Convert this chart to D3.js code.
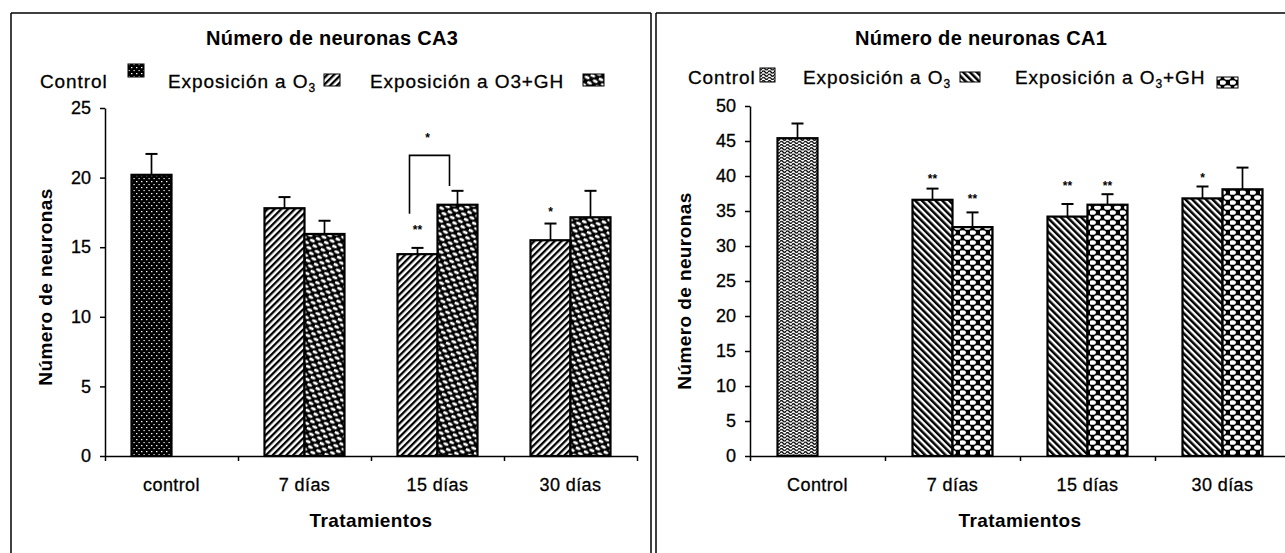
<!DOCTYPE html>
<html>
<head>
<meta charset="utf-8">
<script src="https://cdn.jsdelivr.net/npm/d3@7/dist/d3.min.js"></script>
<style>
  html, body { margin: 0; padding: 0; background: #fff; }
  svg { display: block; }
  text { font-family: "Liberation Sans", Arial, sans-serif; fill: #000; }
  text.reg { stroke: #000; stroke-width: 0.3; }
</style>
</head>
<body>
<svg id="chart" width="1285" height="553"></svg>
<script>
// ---- CA3 panel data ----
const ca3Categories = ["control", "7 días", "15 días", "30 días"];
const ca3Control = [20.2, null, null, null];
const ca3ControlErr = [1.5, null, null, null];
const ca3O3 = [null, 17.8, 14.5, 15.5];
const ca3O3Err = [null, 0.8, 0.45, 1.2];
const ca3O3GH = [null, 15.95, 18.05, 17.15];
const ca3O3GHErr = [null, 0.95, 1.0, 1.9];
const ca3Ticks = [0, 5, 10, 15, 20, 25];

// ---- CA1 panel data ----
const ca1Categories = ["Control", "7 días", "15 días", "30 días"];
const ca1Control = [45.4, null, null, null];
const ca1ControlErr = [2.1, null, null, null];
const ca1O3 = [null, 36.6, 34.2, 36.8];
const ca1O3Err = [null, 1.6, 1.8, 1.7];
const ca1O3GH = [null, 32.7, 35.9, 38.1];
const ca1O3GHErr = [null, 2.1, 1.5, 3.1];
const ca1Ticks = [0, 5, 10, 15, 20, 25, 30, 35, 40, 45, 50];

// significance marks: category index, series slot (0 = left bar, 1 = right bar), label, height in data units
const ca3Marks = [
  { cat: 2, slot: 0, label: "**", at: 16.25 },
  { cat: 3, slot: 0, label: "*", at: 17.5 }
];
const ca3Bracket = { cat: 2, label: "*", top: 21.6, leftBottom: 17.4, rightBottom: 19.4, labelAt: 22.85 };
const ca1Marks = [
  { cat: 1, slot: 0, label: "**", at: 39.6 },
  { cat: 1, slot: 1, label: "**", at: 36.7 },
  { cat: 2, slot: 0, label: "**", at: 38.6 },
  { cat: 2, slot: 1, label: "**", at: 38.6 },
  { cat: 3, slot: 0, label: "*", at: 39.7 }
];

const svg = d3.select("#chart");
const defs = svg.append("defs");

// ---- fill patterns ----
function pattern(id, w, h, transform) {
  const p = defs.append("pattern").attr("id", id)
    .attr("patternUnits", "userSpaceOnUse").attr("width", w).attr("height", h);
  if (transform) p.attr("patternTransform", transform);
  return p;
}
// dark stipple (black with fine white dots)
{
  const p = pattern("pDarkDots", 5, 6);
  p.append("rect").attr("width", 5).attr("height", 6).attr("fill", "#000");
  p.append("rect").attr("x", 1).attr("y", 1).attr("width", 1.4).attr("height", 1.2).attr("fill", "#fff");
  p.append("rect").attr("x", 3.5).attr("y", 4).attr("width", 1.2).attr("height", 1.1).attr("fill", "#fff");
}
// forward hatch ////
{
  const p = pattern("pHatchFwd", 4.8, 4.8, "rotate(45)");
  p.append("rect").attr("width", 4.8).attr("height", 4.8).attr("fill", "#fff");
  p.append("rect").attr("width", 2.3).attr("height", 4.8).attr("fill", "#000");
}
// back hatch \\\\
{
  const p = pattern("pHatchBack", 4.8, 4.8, "rotate(-45)");
  p.append("rect").attr("width", 4.8).attr("height", 4.8).attr("fill", "#fff");
  p.append("rect").attr("width", 2.5).attr("height", 4.8).attr("fill", "#000");
}
// scale / weave texture
function weave(id, w, h, rx, ry, transform) {
  const p = pattern(id, w, h, transform);
  p.append("rect").attr("width", w).attr("height", h).attr("fill", "#000");
  const pts = [[w / 4, h / 4], [3 * w / 4, 3 * h / 4], [-w / 4, 3 * h / 4], [5 * w / 4, 3 * h / 4],
               [w / 4, 5 * h / 4], [3 * w / 4, -h / 4]];
  pts.forEach(([cx, cy]) => p.append("ellipse").attr("cx", cx).attr("cy", cy)
    .attr("rx", rx).attr("ry", ry).attr("fill", "#fff"));
}
weave("pWeaveA", 9, 8, 2.7, 1.6, "rotate(25)");
weave("pWeaveB", 10, 10, 3.4, 2.3, null);
// speckled wavy texture (mid grey look)
{
  const p = pattern("pWavy", 6, 3.2);
  p.append("rect").attr("width", 6).attr("height", 3.2).attr("fill", "#fff");
  p.append("path").attr("d", "M0,1.6 C1,0.2 2,0.2 3,1.6 S5,3 6,1.6")
    .attr("fill", "none").attr("stroke", "#000").attr("stroke-width", 1.3);
}

// ---- panel frames ----
const frame = svg.append("g").attr("stroke", "#000").attr("stroke-width", 1.5).attr("fill", "none");
frame.append("line").attr("x1", 11).attr("y1", 13).attr("x2", 651).attr("y2", 13);
frame.append("line").attr("x1", 11).attr("y1", 13).attr("x2", 11).attr("y2", 553);
frame.append("line").attr("x1", 651).attr("y1", 13).attr("x2", 651).attr("y2", 553);
frame.append("line").attr("x1", 656).attr("y1", 13).attr("x2", 656).attr("y2", 553);
frame.append("line").attr("x1", 656).attr("y1", 13).attr("x2", 1285).attr("y2", 13);

// ---- one bar chart panel ----
function drawPanel(cfg) {
  const g = svg.append("g");
  const x = d3.scaleBand().domain(cfg.categories).range([cfg.x0, cfg.x1]);
  const y = d3.scaleLinear().domain([0, cfg.yMax]).range([cfg.yBase, cfg.yTop]);
  const barW = 40;

  // title
  g.append("text").attr("x", cfg.titleX).attr("y", 45).attr("text-anchor", "middle")
    .attr("font-weight", "bold").attr("font-size", 20).attr("letter-spacing", 0.3)
    .text(cfg.title);

  // legend
  cfg.legend.forEach(item => {
    const t = g.append("text").attr("class", "reg").attr("x", item.tx).attr("y", cfg.legendY)
      .attr("font-size", 19).attr("letter-spacing", 0.9);
    item.parts.forEach(pt => {
      const s = t.append("tspan").text(pt.t);
      if (pt.sub) s.attr("font-size", 12).attr("dy", 4);
      if (pt.after) s.attr("dy", -4);
    });
    g.append("rect").attr("x", item.sx).attr("y", item.sy).attr("width", item.sw).attr("height", item.sh)
      .attr("fill", `url(#${item.fill})`).attr("stroke", "#000").attr("stroke-width", 1);
  });

  // bars: slot 0 = left of centre, slot 1 = right of centre
  const series = [
    { vals: cfg.control, errs: cfg.controlErr, slot: 0, fill: cfg.fills[0] },
    { vals: cfg.o3, errs: cfg.o3Err, slot: 0, fill: cfg.fills[1] },
    { vals: cfg.gh, errs: cfg.ghErr, slot: 1, fill: cfg.fills[2] }
  ];
  const barX = (i, slot) => x(cfg.categories[i]) + x.bandwidth() / 2 - barW + slot * barW;

  series.forEach(s => {
    const rows = s.vals.map((v, i) => ({ v, e: s.errs[i], i })).filter(d => d.v != null);
    g.selectAll(null).data(rows).enter().append("rect")
      .attr("x", d => barX(d.i, s.slot)).attr("y", d => y(d.v))
      .attr("width", barW).attr("height", d => y(0) - y(d.v))
      .attr("fill", `url(#${s.fill})`).attr("stroke", "#000").attr("stroke-width", 2.2);
    rows.forEach(d => {
      const cx = barX(d.i, s.slot) + barW / 2;
      g.append("line").attr("x1", cx).attr("x2", cx).attr("y1", y(d.v)).attr("y2", y(d.v + d.e))
        .attr("stroke", "#000").attr("stroke-width", 1.7);
      g.append("line").attr("x1", cx - 6).attr("x2", cx + 6).attr("y1", y(d.v + d.e)).attr("y2", y(d.v + d.e))
        .attr("stroke", "#000").attr("stroke-width", 2);
    });
  });

  // y axis
  const yAxis = g.append("g").attr("transform", `translate(${cfg.x0},0)`)
    .call(d3.axisLeft(y).tickValues(cfg.ticks).tickSize(5).tickSizeOuter(0).tickPadding(cfg.tickPad));
  yAxis.selectAll("text").attr("class", "reg").attr("font-size", 18)
    .attr("font-family", "Liberation Sans, Arial, sans-serif");

  // x axis: ticks at category boundaries, labels under each category
  const xb = d3.scaleLinear().domain([0, cfg.categories.length]).range([cfg.x0, cfg.x1]);
  g.append("g").attr("transform", `translate(0,${cfg.yBase})`)
    .call(d3.axisBottom(xb).ticks(cfg.categories.length).tickFormat("").tickSize(5).tickSizeOuter(0));
  const xAxis = g.append("g").attr("transform", `translate(0,${cfg.yBase})`)
    .call(d3.axisBottom(x).tickSize(0).tickPadding(22));
  xAxis.select(".domain").remove();
  xAxis.selectAll("text").attr("class", "reg").attr("font-size", 18).attr("letter-spacing", 0.4)
    .attr("font-family", "Liberation Sans, Arial, sans-serif");

  g.selectAll(".domain, .tick line").attr("stroke", "#000").attr("stroke-width", 1.5);

  // axis titles
  g.append("text").attr("x", (cfg.x0 + cfg.x1) / 2).attr("y", 527).attr("text-anchor", "middle")
    .attr("font-weight", "bold").attr("font-size", 19).attr("letter-spacing", 0.4).text("Tratamientos");
  g.append("text").attr("transform", `translate(${cfg.yTitleX},${cfg.yTitleY}) rotate(-90)`)
    .attr("text-anchor", "middle").attr("font-weight", "bold").attr("font-size", 19)
    .attr("letter-spacing", 0.4).text("Número de neuronas");

  // significance marks
  cfg.marks.forEach(m => {
    g.append("text").attr("x", barX(m.cat, m.slot) + barW / 2).attr("y", y(m.at))
      .attr("text-anchor", "middle").attr("dominant-baseline", "central")
      .attr("font-weight", "bold").attr("font-size", 12).text(m.label);
  });
  if (cfg.bracket) {
    const b = cfg.bracket;
    const xl = barX(b.cat, 0) + barW / 2 - 8;
    const xr = barX(b.cat, 1) + barW / 2 - 8;
    g.append("path")
      .attr("d", `M${xl},${y(b.leftBottom)}V${y(b.top)}H${xr}V${y(b.rightBottom)}`)
      .attr("fill", "none").attr("stroke", "#000").attr("stroke-width", 1.6);
    g.append("text").attr("x", (xl + xr) / 2 - 2).attr("y", y(b.labelAt))
      .attr("text-anchor", "middle").attr("dominant-baseline", "central")
      .attr("font-weight", "bold").attr("font-size", 12).text(b.label);
  }
}

drawPanel({
  title: "Número de neuronas CA3", titleX: 332,
  categories: ca3Categories, control: ca3Control, controlErr: ca3ControlErr,
  o3: ca3O3, o3Err: ca3O3Err, gh: ca3O3GH, ghErr: ca3O3GHErr,
  ticks: ca3Ticks, yMax: 25, x0: 105, x1: 637, yBase: 456, yTop: 108, tickPad: 9,
  fills: ["pDarkDots", "pHatchFwd", "pWeaveA"],
  yTitleX: 52, yTitleY: 287,
  legendY: 88,
  legend: [
    { parts: [{ t: "Control" }], tx: 40, sx: 128, sy: 64, sw: 16, sh: 13, fill: "pDarkDots" },
    { parts: [{ t: "Exposición a O" }, { t: "3", sub: true }], tx: 168, sx: 324, sy: 74, sw: 16, sh: 12, fill: "pHatchFwd" },
    { parts: [{ t: "Exposición a O3+GH" }], tx: 370, sx: 583, sy: 74, sw: 21, sh: 12, fill: "pWeaveA" }
  ],
  marks: ca3Marks, bracket: ca3Bracket
});

drawPanel({
  title: "Número de neuronas CA1", titleX: 981,
  categories: ca1Categories, control: ca1Control, controlErr: ca1ControlErr,
  o3: ca1O3, o3Err: ca1O3Err, gh: ca1O3GH, ghErr: ca1O3GHErr,
  ticks: ca1Ticks, yMax: 50, x0: 750, x1: 1290, yBase: 456, yTop: 106, tickPad: 9,
  fills: ["pWavy", "pHatchBack", "pWeaveB"],
  yTitleX: 691, yTitleY: 291,
  legendY: 84,
  legend: [
    { parts: [{ t: "Control" }], tx: 688, sx: 760, sy: 68, sw: 15, sh: 14, fill: "pWavy" },
    { parts: [{ t: "Exposición a O" }, { t: "3", sub: true }], tx: 803, sx: 960, sy: 72, sw: 20, sh: 10, fill: "pHatchBack" },
    { parts: [{ t: "Exposición a O" }, { t: "3", sub: true }, { t: "+GH", after: true }], tx: 1015, sx: 1217, sy: 77, sw: 21, sh: 11, fill: "pWeaveB" }
  ],
  marks: ca1Marks
});
</script>
</body>
</html>
